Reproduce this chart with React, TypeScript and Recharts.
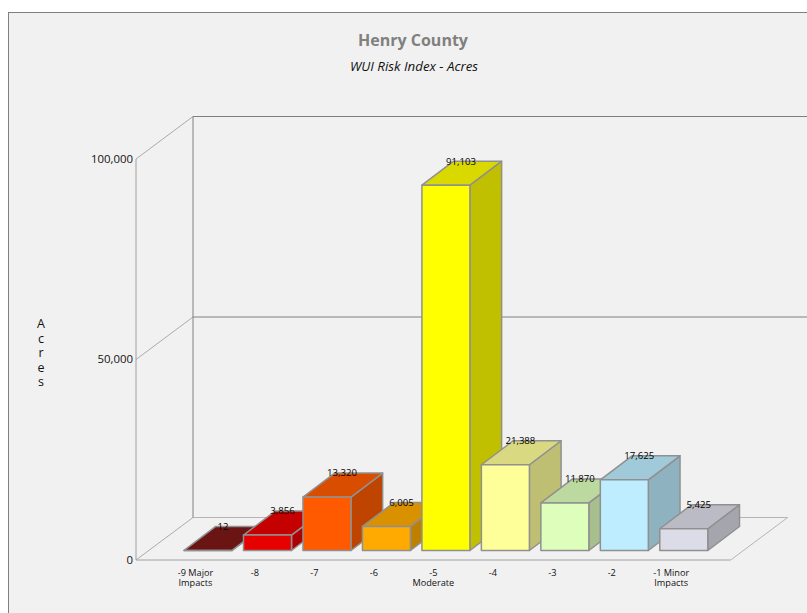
import React from "react";
import { BarChart, Bar, XAxis, YAxis, CartesianGrid, LabelList } from "recharts";

const CATEGORIES = ["-9 Major|Impacts", "-8", "-7", "-6", "-5|Moderate", "-4", "-3", "-2", "-1 Minor|Impacts"];
const ACRES = [12, 3856, 13320, 6005, 91103, 21388, 11870, 17625, 5425];
const Y_TICKS = [0, 50000, 100000];

const FRONT_COLORS = ["#6b1414", "#e60000", "#ff5a00", "#ffaa00", "#ffff00", "#ffff99", "#ddffbb", "#bdedff", "#dcdce8"];
const TOP_COLORS = ["#6b1414", "#c40000", "#d94d00", "#d99100", "#d9d900", "#d9d982", "#bcd99f", "#a0c9d9", "#bbbbc5"];
const SIDE_COLORS = ["#5c1111", "#ad0000", "#bf4400", "#bf8000", "#c0c000", "#bfbf73", "#a6bf8c", "#8eb2bf", "#a5a5ae"];

const data = CATEGORIES.map((name, i) => ({ name, acres: ACRES[i] }));

const FONT = "'Open Sans', sans-serif";
const WIDTH = 807;
const HEIGHT = 613;
const PLOT_TOP = 159;
const PLOT_BOTTOM = 560;

// wall depth, and where the bars stand on the floor
const DEPTH_X = 57;
const DEPTH_Y = 42.5;
const BAR_DX = 12.3;
const BAR_DY = 9.5;
const BAR_DEPTH_X = 31.7;
const BAR_DEPTH_Y = 24;

const Wall = (props: any) => {
  const { x1, x2, y1 } = props;
  const bx = x1 + DEPTH_X;
  const by = y1 - DEPTH_Y;
  if (y1 === PLOT_BOTTOM) {
    return (
      <g fill="none">
        <line x1={x1} y1={y1} x2={bx} y2={by} stroke="#ababab" />
        <line x1={bx} y1={by} x2={x2 + DEPTH_X} y2={by} stroke="#b5b5b5" />
        <line x1={x2} y1={y1} x2={x2 + DEPTH_X} y2={by} stroke="#b5b5b5" />
        <line x1={x1} y1={y1} x2={x2} y2={y1} stroke="#a0a0a0" />
      </g>
    );
  }
  return (
    <g fill="none">
      <line x1={x1} y1={y1} x2={bx} y2={by} stroke="#ababab" />
      <line x1={bx} y1={by} x2={WIDTH} y2={by} stroke="#808080" />
      {y1 === PLOT_TOP && <line x1={bx} y1={by} x2={bx} y2={PLOT_BOTTOM - DEPTH_Y} stroke="#808080" />}
    </g>
  );
};

const Bar3D = (props: any) => {
  const { x, y, width, height, index } = props;
  const left = x + BAR_DX;
  const right = left + width;
  const top = y - BAR_DY;
  const bottom = top + height;
  return (
    <g stroke="#909090" strokeWidth={1.5} strokeLinejoin="round">
      <polygon
        points={`${right},${top} ${right + BAR_DEPTH_X},${top - BAR_DEPTH_Y} ${right + BAR_DEPTH_X},${bottom - BAR_DEPTH_Y} ${right},${bottom}`}
        fill={SIDE_COLORS[index]}
      />
      <polygon
        points={`${left},${top} ${left + BAR_DEPTH_X},${top - BAR_DEPTH_Y} ${right + BAR_DEPTH_X},${top - BAR_DEPTH_Y} ${right},${top}`}
        fill={TOP_COLORS[index]}
      />
      <rect x={left} y={top} width={width} height={height} fill={FRONT_COLORS[index]} />
    </g>
  );
};

const BarValue = (props: any) => {
  const { x, y, width, value } = props;
  return (
    <text
      x={x + width / 2 + BAR_DX + 15}
      y={y - BAR_DY - 24}
      dy="0.35em"
      textAnchor="middle"
      fontSize={9.6}
      fontFamily={FONT}
      fill="#000"
    >
      {Number(value).toLocaleString("en-US")}
    </text>
  );
};

const CategoryTick = (props: any) => {
  const { x, y, payload } = props;
  const lines = String(payload.value).split("|");
  return (
    <text x={x} y={y - 0.5} textAnchor="middle" fontSize={9.2} fontFamily={FONT} fill="#111">
      {lines.map((line, i) => (
        <tspan key={i} x={x} dy={i === 0 ? 0 : 10.7}>
          {line}
        </tspan>
      ))}
    </text>
  );
};

export default function App() {
  return (
    <div style={{ position: "absolute", left: 0, top: 0, width: WIDTH, height: HEIGHT, overflow: "hidden" }}>
      <div
        style={{
          position: "absolute",
          left: 8,
          top: 12,
          width: WIDTH,
          height: HEIGHT,
          background: "#f1f1f1",
          border: "1px solid #808080",
        }}
      />
      <div style={{ position: "absolute", left: 0, top: 0 }}>
        <BarChart
          width={WIDTH}
          height={HEIGHT}
          data={data}
          margin={{ top: PLOT_TOP, right: 76.3, bottom: 0, left: 76 }}
        >
          <text x={413} y={46} textAnchor="middle" fontSize={16} fontWeight={700} fontFamily={FONT} fill="#808080">
            Henry County
          </text>
          <text x={414} y={71} textAnchor="middle" fontSize={13.3} fontStyle="italic" fontFamily={FONT} fill="#111">
            WUI Risk Index - Acres
          </text>
          <text textAnchor="middle" fontSize={12.5} fontFamily={FONT} fill="#111">
            {["A", "c", "r", "e", "s"].map((ch, i) => (
              <tspan key={i} x={41} y={328 + i * 14.5}>
                {ch}
              </tspan>
            ))}
          </text>
          <CartesianGrid vertical={false} horizontal={(p: any) => <Wall key={p.key} {...p} />} />
          <XAxis
            dataKey="name"
            height={53}
            padding={{ left: 29.73, right: 29.73 }}
            axisLine={false}
            tickLine={false}
            interval={0}
            tick={<CategoryTick />}
            tickMargin={10}
          />
          <YAxis
            width={60}
            domain={[0, 100000]}
            ticks={Y_TICKS}
            tickSize={0}
            tickMargin={3}
            axisLine={{ stroke: "#a0a0a0" }}
            tick={{ fontSize: 11.4, fontFamily: FONT, fill: "#111", dy: -0.5 }}
            tickFormatter={(v: number) => v.toLocaleString("en-US")}
          />
          <Bar dataKey="acres" barSize={48} isAnimationActive={false} shape={<Bar3D />}>
            <LabelList dataKey="acres" content={<BarValue />} />
          </Bar>
        </BarChart>
      </div>
    </div>
  );
}
